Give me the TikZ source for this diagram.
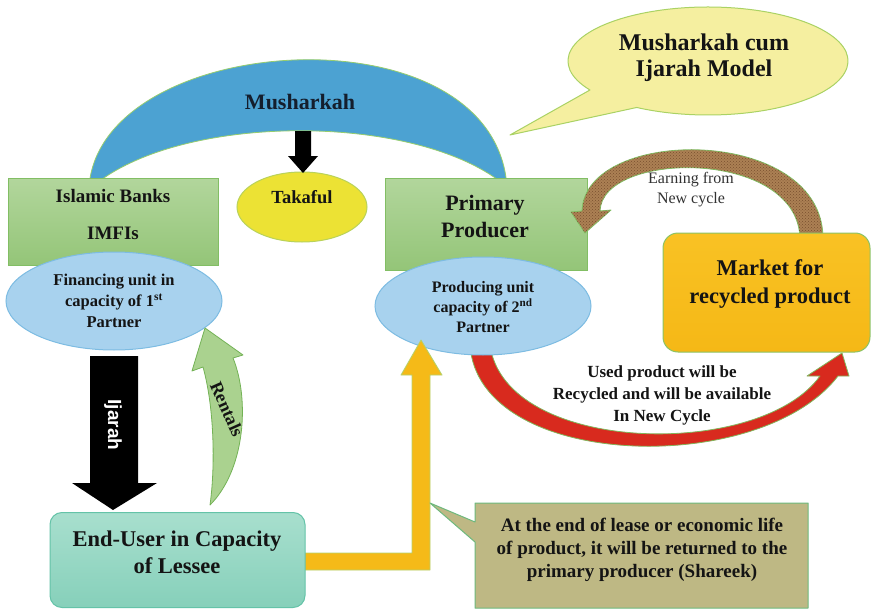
\documentclass[tikz,border=0pt]{standalone}
\usepackage{fontspec}
\setmainfont{Liberation Serif}
\newfontfamily\ijfont{Liberation Sans}
\usetikzlibrary{shapes.geometric,arrows.meta,patterns}
\newcommand\myfs[2]{\fontsize{#1}{#2}\selectfont}
\definecolor{ink}{RGB}{20,20,20}
\definecolor{gtop}{RGB}{178,214,156}
\definecolor{gbot}{RGB}{148,197,120}
\definecolor{gline}{RGB}{130,190,100}
\definecolor{bfill}{RGB}{168,210,238}
\definecolor{bline}{RGB}{125,188,226}
\definecolor{archc}{RGB}{76,162,210}
\definecolor{archline}{RGB}{150,205,110}
\definecolor{takc}{RGB}{236,226,52}
\definecolor{takline}{RGB}{185,210,90}
\definecolor{mtop}{RGB}{249,194,36}
\definecolor{mbot}{RGB}{245,184,22}
\definecolor{mline}{RGB}{140,195,100}
\definecolor{eutop}{RGB}{168,223,206}
\definecolor{eubot}{RGB}{134,208,186}
\definecolor{euline}{RGB}{100,195,168}
\definecolor{notec}{RGB}{190,184,132}
\definecolor{noteline}{RGB}{110,185,125}
\definecolor{bubc}{RGB}{245,239,160}
\definecolor{bubline}{RGB}{170,210,100}
\definecolor{yelc}{RGB}{245,186,24}
\definecolor{yelline}{RGB}{180,210,110}
\definecolor{redc}{RGB}{216,42,30}
\definecolor{redline}{RGB}{130,180,90}
\definecolor{brownc}{RGB}{172,128,84}
\definecolor{browndk}{RGB}{120,80,45}
\definecolor{rentc}{RGB}{170,210,143}
\definecolor{rentline}{RGB}{115,178,85}
\definecolor{softink}{RGB}{50,50,50}
\begin{document}
\begin{tikzpicture}[x=1pt,y=-1pt,
  txt/.style={text=ink, inner sep=0pt, align=center},
  gbox/.style={draw=gline, line width=1pt, top color=gtop, bottom color=gbot},
  bell/.style={ellipse, draw=bline, fill=bfill, line width=1pt, inner sep=0pt},
  shapeline/.style={line width=0.8pt, line join=round}
]
\fill[white] (0,0) rectangle (871,610);
\useasboundingbox (0,0) rectangle (871,610);

% Musharkah arch
\path[fill=archc, draw=archline, shapeline]
  (89,187) .. controls (100,30) and (495,5) .. (507,187)
  .. controls (420,112) and (180,112) .. (92,187) -- cycle;

% green boxes
\node[gbox, minimum width=210pt, minimum height=87pt] (ib) at (113,221.5) {};
\node[gbox, minimum width=202pt, minimum height=92pt] (pp) at (486,224) {};

% red recycle arrow
\path[fill=redc, draw=redline, shapeline]
  (470,345) .. controls (478,470) and (760,478) .. (838,376)
  -- (849,376) -- (842,353) -- (807,376) -- (820,376)
  .. controls (760,460) and (505,455) .. (490,345) -- cycle;

% ellipses
\node[bell, minimum width=216pt, minimum height=98pt] (fin) at (114,301) {};
\node[bell, minimum width=216pt, minimum height=98pt] (prod) at (483,306) {};
\node[ellipse, fill=takc, draw=takline, line width=1pt, minimum width=130pt, minimum height=70pt] (tak) at (302,207) {};

% small black arrow
\path[fill=black] (295,131) -- (311,131) -- (311,156) -- (318,156) -- (303,173) -- (288,156) -- (295,156) -- cycle;

% Ijarah arrow
\path[fill=black] (90,356) -- (138,356) -- (138,483) -- (157,483) -- (113,510) -- (72,483) -- (90,483) -- cycle;

% Rentals arrow
\path[fill=rentc, draw=rentline, shapeline]
  (210,505) .. controls (245,470) and (250,400) .. (233,358)
  -- (243,355) -- (205,328) -- (192,371) -- (203,367)
  .. controls (215,410) and (215,470) .. (210,505) -- cycle;

% yellow return arrow
\path[fill=yelc, draw=yelline, shapeline]
  (300,553) -- (412,553) -- (412,375) -- (401,375) -- (421,340) -- (442,375)
  -- (430,375) -- (430,570) -- (300,570) -- cycle;

% brown earning arrow
\path[fill=brownc, draw=gline, shapeline,
      postaction={pattern=crosshatch dots, pattern color=browndk}]
  (823,240) .. controls (825,125) and (585,125) .. (582,211)
  -- (571,212) -- (585,233) -- (611,210) -- (600,211)
  .. controls (602,150) and (800,148) .. (800,240) -- cycle;

% market box
\node[draw=mline, line width=1pt, top color=mtop, bottom color=mbot, rounded corners=15pt,
      minimum width=207pt, minimum height=119pt] (mk) at (766.5,292.5) {};

% end user box
\node[draw=euline, line width=1pt, top color=eutop, bottom color=eubot, rounded corners=12pt,
      minimum width=255pt, minimum height=95pt] (eu) at (177.5,560) {};

% callout
\path[fill=notec, draw=noteline, line width=1pt, line join=round]
  (475,503) -- (808,503) -- (808,608) -- (475,608) -- (475,542) -- (430,503) -- (475,522) -- cycle;

% speech bubble
\path[fill=bubc, draw=bubline, line width=1pt, line join=round]
  (708,61) ++(212.5:140pt and 54pt)
  arc[start angle=212.5, end angle=-120.6, x radius=140pt, y radius=54pt]
  -- (510,135) -- cycle;

% texts
\node[txt, font=\myfs{22}{26}\bfseries, text={rgb,255:red,20;green,30;blue,45}] (musht) at (300,102) {Musharkah};
\node[txt, font=\myfs{18.5}{22}\bfseries] (takt) at (302,197) {Takaful};
\node[txt, font=\myfs{19}{22}\bfseries] (ibt1) at (113,196) {Islamic Banks};
\node[txt, font=\myfs{19}{22}\bfseries] (ibt2) at (113,233) {IMFIs};
\node[txt, font=\myfs{16.5}{21}\bfseries] (fint) at (114,301) {Financing unit in\\capacity of 1\textsuperscript{st}\\Partner};
\node[txt, font=\myfs{22}{27}\bfseries] (ppt) at (485,217) {Primary\\Producer};
\node[txt, font=\myfs{16}{20}\bfseries] (prodt) at (483,307) {Producing unit\\capacity of 2\textsuperscript{nd}\\Partner};
\node[txt, font=\myfs{22.5}{28}\bfseries] (mkt) at (770,284) {Market for\\recycled product};
\node[txt, font=\myfs{16}{20}, text=softink] (earnt) at (691,190) {Earning from\\New cycle};
\node[txt, font=\myfs{17}{22}\bfseries] (usedt) at (662,395) {Used product will be\\Recycled and will be available\\In New Cycle};
\node[txt, font=\ijfont\myfs{19}{22}\bfseries, text=white, rotate=-90] (ijt) at (113,425) {Ijarah};
\node[txt, font=\myfs{18}{22}\bfseries, rotate=-66] (rentt) at (227,409) {Rentals};
\node[txt, font=\myfs{22.5}{27}\bfseries] (eut) at (177,552.5) {End-User in Capacity\\of Lessee};
\node[txt, font=\myfs{19}{23}\bfseries] (notet) at (642,550) {At the end of lease or economic life\\of product, it will be returned to the\\primary producer (Shareek)};
\node[txt, font=\myfs{24}{26}\bfseries] (bubt) at (704,58) {Musharkah cum\\Ijarah Model};
\end{tikzpicture}
\end{document}
